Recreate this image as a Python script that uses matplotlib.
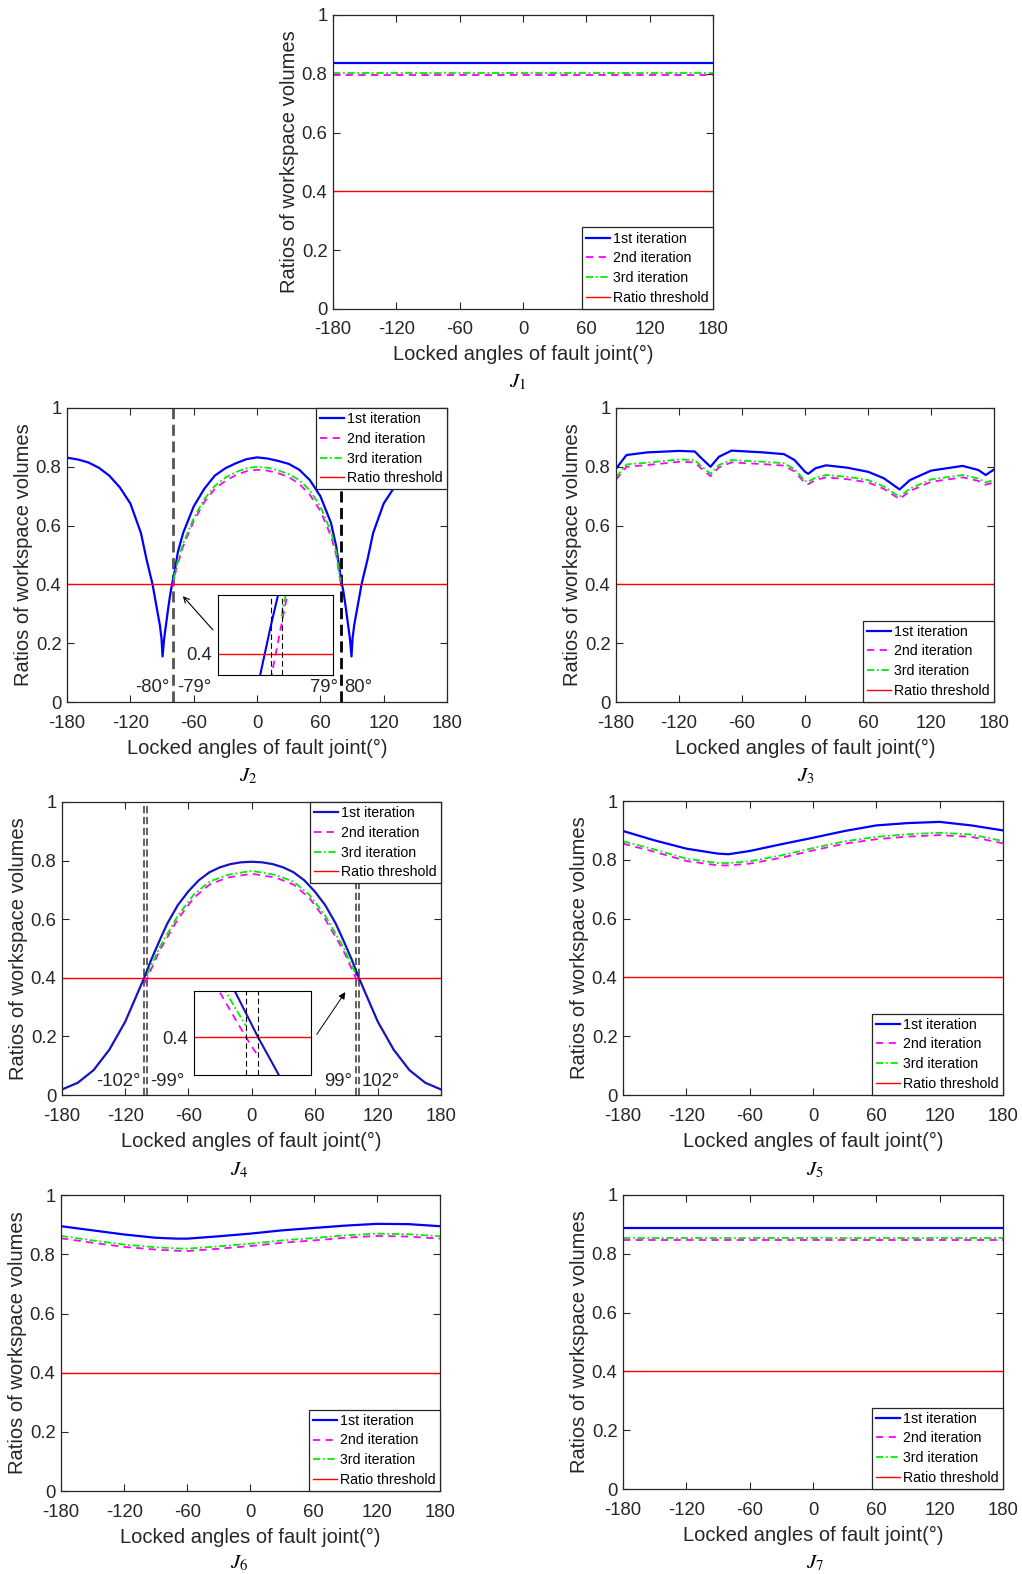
import matplotlib.pyplot as plt

plt.rcParams['font.family'] = ['Liberation Sans', 'DejaVu Sans']
plt.rcParams['mathtext.fontset'] = 'stix'

# common values
threshold = 0.4
labels = ['1st iteration', '2nd iteration', '3rd iteration', 'Ratio threshold']
xticks = [-180, -120, -60, 0, 60, 120, 180]
yticks = [0, 0.2, 0.4, 0.6, 0.8, 1]
ytick_text = ['0', '0.2', '0.4', '0.6', '0.8', '1']

# J1 - flat
j1_x = [-180, -90, 0, 90, 180]
j1_1st = [0.835, 0.835, 0.835, 0.835, 0.835]
j1_2nd = [0.795, 0.795, 0.795, 0.795, 0.795]
j1_3rd = [0.804, 0.804, 0.804, 0.804, 0.804]

# J2 - two deep dips, 2nd/3rd only in middle range
j2_x1 = [-180, -170, -160, -150, -140, -130, -120, -110, -105, -99, -95, -92, -90.5, -89.5,
         -88, -84, -82, -80, -78, -75, -70, -60, -50, -40, -30, -20, -10, 0,
         10, 20, 30, 40, 50, 60, 70, 75, 78, 80, 82, 84, 88, 89.5, 90.5, 92, 95,
         99, 105, 110, 120, 130, 140, 150, 160, 170, 180]
j2_1st = [0.831, 0.825, 0.815, 0.797, 0.77, 0.73, 0.675, 0.575, 0.49, 0.40, 0.32, 0.26, 0.216, 0.155,
          0.216, 0.323, 0.372, 0.41, 0.445, 0.51, 0.575, 0.665, 0.725, 0.77, 0.795, 0.812, 0.826, 0.832,
          0.828, 0.82, 0.81, 0.79, 0.755, 0.70, 0.61, 0.53, 0.455, 0.41, 0.372, 0.323, 0.216, 0.155,
          0.216, 0.26, 0.32, 0.40, 0.49, 0.575, 0.675, 0.73, 0.77, 0.797, 0.815, 0.825, 0.831]
j2_x2 = [-80, -78, -75, -70, -60, -50, -40, -30, -20, -10, 0, 10, 20, 30, 40, 50, 60, 70, 75, 78, 80]
j2_2nd = [0.39, 0.432, 0.47, 0.53, 0.615, 0.68, 0.725, 0.752, 0.772, 0.785, 0.79, 0.787, 0.778,
          0.765, 0.742, 0.705, 0.65, 0.565, 0.50, 0.432, 0.39]
j2_x3 = [-79, -78, -75, -70, -60, -50, -40, -30, -20, -10, 0, 10, 20, 30, 40, 50, 60, 70, 75, 78, 79]
j2_3rd = [0.414, 0.435, 0.48, 0.54, 0.625, 0.69, 0.735, 0.763, 0.782, 0.795, 0.80, 0.797, 0.788,
          0.775, 0.755, 0.72, 0.665, 0.58, 0.51, 0.435, 0.414]

# J3 - wavy with small dips
j3_x = [-180, -170, -150, -120, -105, -100, -90, -82, -70, -40, -20, -10, 0, 3, 10, 20, 40,
        60, 75, 90, 100, 120, 150, 165, 172, 180]
j3_1st = [0.793, 0.84, 0.849, 0.854, 0.852, 0.834, 0.80, 0.834, 0.855, 0.849, 0.843, 0.823, 0.783,
          0.776, 0.795, 0.805, 0.797, 0.783, 0.761, 0.723, 0.755, 0.787, 0.803, 0.789, 0.772, 0.791]
j3_3rd = [0.764, 0.808, 0.814, 0.825, 0.823, 0.806, 0.776, 0.806, 0.823, 0.817, 0.812, 0.792, 0.752,
          0.749, 0.763, 0.772, 0.766, 0.755, 0.733, 0.698, 0.726, 0.757, 0.772, 0.76, 0.747, 0.755]
j3_2nd = [0.756, 0.80, 0.806, 0.817, 0.815, 0.798, 0.768, 0.798, 0.815, 0.809, 0.804, 0.784, 0.744,
          0.741, 0.755, 0.764, 0.758, 0.747, 0.725, 0.69, 0.718, 0.749, 0.764, 0.752, 0.739, 0.747]

# J4 - bell shape
j4_x1 = [-180, -165, -150, -135, -120, -110, -102, -95, -87, -80, -70, -60, -50, -40, -30, -20, -10, 0,
         10, 20, 30, 40, 50, 60, 70, 80, 87, 95, 102, 110, 120, 135, 150, 165, 180]
j4_1st = [0.019, 0.042, 0.085, 0.155, 0.25, 0.333, 0.40, 0.464, 0.53, 0.585, 0.648, 0.695, 0.733,
          0.76, 0.777, 0.788, 0.794, 0.796,
          0.794, 0.788, 0.777, 0.76, 0.733, 0.695, 0.648, 0.585, 0.53, 0.464, 0.40, 0.333, 0.25,
          0.155, 0.085, 0.042, 0.019]
j4_x2 = [-101.5, -99, -87, -70, -55, -40, -23, 0, 23, 40, 55, 70, 87, 99, 101.5]
j4_2nd = [0.382, 0.40, 0.495, 0.60, 0.672, 0.718, 0.742, 0.755, 0.742, 0.718, 0.672, 0.60,
          0.495, 0.40, 0.382]
j4_x3 = [-99, -87, -70, -55, -40, -23, 0, 23, 40, 55, 70, 87, 99]
j4_3rd = [0.413, 0.506, 0.612, 0.683, 0.728, 0.751, 0.765, 0.751, 0.728, 0.683, 0.612, 0.506, 0.413]

# J5
j5_x = [-180, -150, -120, -90, -80, -60, -30, 0, 30, 60, 90, 120, 150, 180]
j5_1st = [0.898, 0.866, 0.838, 0.821, 0.819, 0.83, 0.853, 0.875, 0.898, 0.917, 0.925, 0.929, 0.917, 0.90]
j5_3rd = [0.863, 0.835, 0.804, 0.789, 0.789, 0.795, 0.815, 0.84, 0.863, 0.878, 0.887, 0.892, 0.886, 0.864]
j5_2nd = [0.855, 0.827, 0.796, 0.781, 0.781, 0.787, 0.807, 0.832, 0.855, 0.87, 0.879, 0.884, 0.878, 0.856]

# J6
j6_x = [-180, -150, -120, -90, -70, -60, -30, 0, 30, 60, 90, 120, 150, 180]
j6_1st = [0.895, 0.881, 0.867, 0.856, 0.853, 0.853, 0.861, 0.87, 0.881, 0.889, 0.897, 0.903, 0.902, 0.895]
j6_3rd = [0.862, 0.847, 0.833, 0.824, 0.82, 0.819, 0.827, 0.836, 0.847, 0.855, 0.864, 0.87, 0.868, 0.861]
j6_2nd = [0.854, 0.839, 0.825, 0.816, 0.812, 0.811, 0.819, 0.828, 0.839, 0.847, 0.856, 0.862, 0.86, 0.853]

# J7 - flat
j7_x = [-180, -90, 0, 90, 180]
j7_1st = [0.888, 0.888, 0.888, 0.888, 0.888]
j7_2nd = [0.846, 0.846, 0.846, 0.846, 0.846]
j7_3rd = [0.855, 0.855, 0.855, 0.855, 0.855]

edge = '#262626'


def draw(rect, x1, y1, x2, y2, x3, y3, loc, caption, cap_xy, blue='#0000ff'):
    ax = fig.add_axes(rect)
    ax.plot(x1, y1, color=blue, lw=1.6, label=labels[0])
    ax.plot(x2, y2, color='#ff00ff', lw=1.3, ls=(0, (4, 3)), label=labels[1])
    ax.plot(x3, y3, color='#00ee00', lw=1.3, ls=(0, (4, 1.5, 1, 1.5)), label=labels[2])
    ax.axhline(threshold, color='#ff0000', lw=1, label=labels[3])
    ax.set_xlim(-180, 180)
    ax.set_ylim(0, 1)
    ax.set_xticks(xticks)
    ax.set_xticklabels([str(v) for v in xticks])
    ax.set_yticks(yticks)
    ax.set_yticklabels(ytick_text)
    ax.tick_params(direction='in', length=5, width=0.8, top=True, right=True,
                   labelsize=13.3, colors=edge)
    ax.tick_params(axis='x', pad=9)
    ax.tick_params(axis='y', pad=4)
    for s in ax.spines.values():
        s.set_color(edge)
        s.set_linewidth(0.9)
    ax.set_xlabel('Locked angles of fault joint(°)', fontsize=14.5, color=edge, labelpad=5)
    ax.set_ylabel('Ratios of workspace volumes', fontsize=14.5, color=edge, labelpad=2)
    leg = ax.legend(loc=loc, fontsize=10.2, borderaxespad=0, fancybox=False, framealpha=1,
                    handlelength=1.7, handletextpad=0.2, labelspacing=0.4, borderpad=0.3)
    leg.get_frame().set_edgecolor(edge)
    leg.get_frame().set_linewidth(0.9)
    leg.set_zorder(10)
    fig.text(cap_xy[0], cap_xy[1], caption, fontsize=15, ha='center', va='center')
    return ax


def inset(rect, series, xlim, ylim, vlines):
    ins = fig.add_axes(rect)
    for x, y, c, ls, lw in series:
        ins.plot(x, y, color=c, ls=ls, lw=lw)
    ins.axhline(threshold, color='#ff0000', lw=1)
    for v in vlines:
        ins.axvline(v, color='black', ls=(0, (5, 3)), lw=0.8)
    ins.set_xlim(xlim)
    ins.set_ylim(ylim)
    ins.set_xticks([])
    ins.set_yticks([threshold])
    ins.set_yticklabels(['0.4'])
    ins.tick_params(length=0, labelsize=13.3, colors=edge, pad=4)
    for s in ins.spines.values():
        s.set_color('black')
        s.set_linewidth(0.8)
    return ins


fig = plt.figure(figsize=(10.22, 15.74), dpi=100)

# J1
draw([0.3258, 0.8037, 0.3718, 0.1868], j1_x, j1_1st, j1_x, j1_2nd, j1_x, j1_3rd,
     'lower right', r'$J_1$', (0.506, 0.757))

# J2
ax2 = draw([0.0656, 0.554, 0.3718, 0.1868], j2_x1, j2_1st, j2_x2, j2_2nd, j2_x3, j2_3rd,
           'upper right', r'$J_2$', (0.2427, 0.507))
ax2.axvline(-79.5, color='#555555', ls=(0, (4, 2)), lw=2, zorder=1)
ax2.axvline(79.5, color='black', ls=(0, (4, 2)), lw=2, zorder=1)
ax2.text(-83, 0.05, '-80°', ha='right', va='center', fontsize=13.3, color=edge)
ax2.text(-76, 0.05, '-79°', ha='left', va='center', fontsize=13.3, color=edge)
ax2.text(76.5, 0.05, '79°', ha='right', va='center', fontsize=13.3, color=edge)
ax2.text(83, 0.05, '80°', ha='left', va='center', fontsize=13.3, color=edge)
ax2.annotate('', xy=(-72, 0.367), xytext=(-40, 0.238),
             arrowprops=dict(arrowstyle='->', color='black', lw=0.8))
inset([0.2133, 0.5712, 0.1125, 0.0508],
      [(j2_x1, j2_1st, '#0000ff', '-', 1.5),
       (j2_x2, j2_2nd, '#ff00ff', (0, (4, 3)), 1.3),
       (j2_x3, j2_3rd, '#00ee00', (0, (4, 1.5, 1, 1.5)), 1.3)],
      (-84.8, -74.3), (0.392, 0.422), [-80, -79])

# J3
draw([0.6027, 0.554, 0.37, 0.1868], j3_x, j3_1st, j3_x, j3_2nd, j3_x, j3_3rd,
     'lower right', r'$J_3$', (0.788, 0.507))

# J4
ax4 = draw([0.0607, 0.3043, 0.3708, 0.1862], j4_x1, j4_1st, j4_x2, j4_2nd, j4_x3, j4_3rd,
           'upper right', r'$J_4$', (0.234, 0.2567), blue='#1414c0')
for v in [-102, -99, 99, 102]:
    ax4.axvline(v, color='#555555', ls=(0, (4, 2)), lw=1.3, zorder=1)
ax4.text(-105, 0.045, '-102°', ha='right', va='center', fontsize=13.3, color=edge)
ax4.text(-96, 0.045, '-99°', ha='left', va='center', fontsize=13.3, color=edge)
ax4.text(96, 0.045, '99°', ha='right', va='center', fontsize=13.3, color=edge)
ax4.text(105, 0.045, '102°', ha='left', va='center', fontsize=13.3, color=edge)
ax4.annotate('', xy=(90.6, 0.359), xytext=(60.5, 0.199),
             arrowprops=dict(arrowstyle='-|>', color='black', lw=0.7, mutation_scale=10))
inset([0.1898, 0.317, 0.1145, 0.0534],
      [(j4_x1, j4_1st, '#1414c0', '-', 1.5),
       (j4_x2, j4_2nd, '#ff00ff', (0, (4, 3)), 1.3),
       (j4_x3, j4_3rd, '#00ee00', (0, (4, 1.5, 1, 1.5)), 1.3)],
      (86.1, 115.1), (0.357, 0.453), [99, 102])

# J5
draw([0.6096, 0.3043, 0.3718, 0.1868], j5_x, j5_1st, j5_x, j5_2nd, j5_x, j5_3rd,
     'lower right', r'$J_5$', (0.7975, 0.2567))

# J6
draw([0.0597, 0.0527, 0.3708, 0.188], j6_x, j6_1st, j6_x, j6_2nd, j6_x, j6_3rd,
     'lower right', r'$J_6$', (0.234, 0.007))

# J7
draw([0.6096, 0.054, 0.3718, 0.1868], j7_x, j7_1st, j7_x, j7_2nd, j7_x, j7_3rd,
     'lower right', r'$J_7$', (0.7975, 0.007))

fig.savefig('out.png', dpi=100)
